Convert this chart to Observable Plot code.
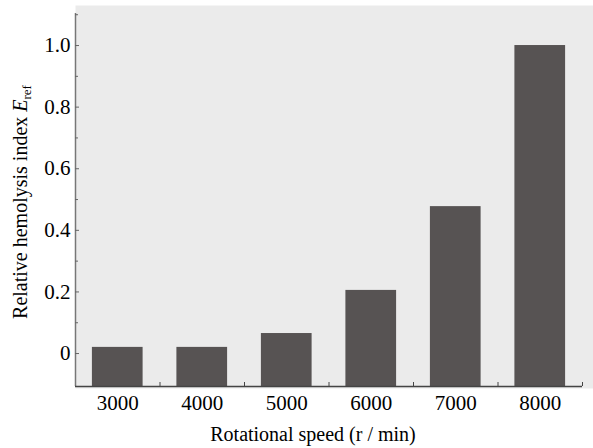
<!DOCTYPE html>
<html>
<head>
<meta charset="utf-8">
<script src="https://cdn.jsdelivr.net/npm/d3@7"></script>
<script src="https://cdn.jsdelivr.net/npm/@observablehq/plot@0.6"></script>
<style>
  html, body { margin: 0; padding: 0; background: #fff; }
  svg { display: block; }
</style>
</head>
<body>
<div id="chart"></div>
<script>
// Data
const speeds = [3000, 4000, 5000, 6000, 7000, 8000];
const hemolysis = [0.02, 0.02, 0.065, 0.205, 0.477, 1.0];
const majorYTicks = [0, 0.2, 0.4, 0.6, 0.8, 1.0];
const minorYTicks = [0.1, 0.3, 0.5, 0.7, 0.9, 1.1];
const minorXTicks = [3500, 4500, 5500, 6500, 7500, 8500];
const xDomain = [2500, 8500];
const yDomain = [-0.107, 1.104];
const barHalfWidth = 300;

const data = speeds.map((s, i) => ({speed: s, value: hemolysis[i]}));

const font = "Liberation Serif, Times New Roman, Times, serif";

const plot = Plot.plot({
  width: 593,
  height: 448,
  marginLeft: 75,
  marginRight: 11,
  marginTop: 13,
  marginBottom: 62,
  style: {fontFamily: font, fontSize: "21px", color: "#000", background: "#fff"},
  x: {domain: xDomain},
  y: {domain: yDomain},
  marks: [
    Plot.frame({fill: "#ebebeb", stroke: "none", insetTop: -8, insetRight: -11, insetBottom: -2}),
    Plot.rectY(data, {
      x1: d => d.speed - barHalfWidth,
      x2: d => d.speed + barHalfWidth,
      y1: yDomain[0],
      y2: "value",
      fill: "#575353"
    }),
    // y axis line
    Plot.ruleX([xDomain[0]], {stroke: "#777", strokeWidth: 1.5}),
    // x axis line
    Plot.ruleY([yDomain[0]], {stroke: "#444", strokeWidth: 1.5}),
    // y major ticks (inward)
    Plot.axisY({ticks: majorYTicks, tickSize: 4, dx: 4, text: null, label: null, stroke: "#666"}),
    // y minor ticks (inward)
    Plot.axisY({ticks: minorYTicks, tickSize: 3, dx: 3, text: null, label: null, stroke: "#666"}),
    // y tick labels
    Plot.axisY({ticks: majorYTicks, tickSize: 0, tickPadding: 5, label: null,
      tickFormat: d => d === 0 ? "0" : d.toFixed(1), fill: "#000", fontSize: 21, fontFamily: font}),
    // x minor ticks (inward, between bars)
    Plot.axisX({ticks: minorXTicks, tickSize: 4, dy: -4, text: null, label: null, stroke: "#444"}),
    // x tick labels
    Plot.axisX({ticks: speeds, tickSize: 0, tickPadding: 9, label: null,
      tickFormat: d => String(d), fill: "#000", fontSize: 21, fontFamily: font})
  ]
});

const svg = d3.select(plot);
// x-axis title
svg.append("text")
  .attr("x", 313)
  .attr("y", 441)
  .attr("text-anchor", "middle")
  .style("font-family", font)
  .style("font-size", "20px")
  .attr("fill", "#000")
  .text("Rotational speed (r / min)");

// y-axis title with subscript
const yt = svg.append("text")
  .attr("transform", "translate(27,202) rotate(-90)")
  .attr("text-anchor", "middle")
  .style("font-family", font)
  .style("font-size", "20px")
  .attr("fill", "#000");
yt.append("tspan").text("Relative hemolysis index ");
yt.append("tspan").attr("font-style", "italic").text("E");
yt.append("tspan").style("font-size", "13px").attr("dy", 4).text("ref");

document.getElementById("chart").appendChild(plot);
</script>
</body>
</html>
